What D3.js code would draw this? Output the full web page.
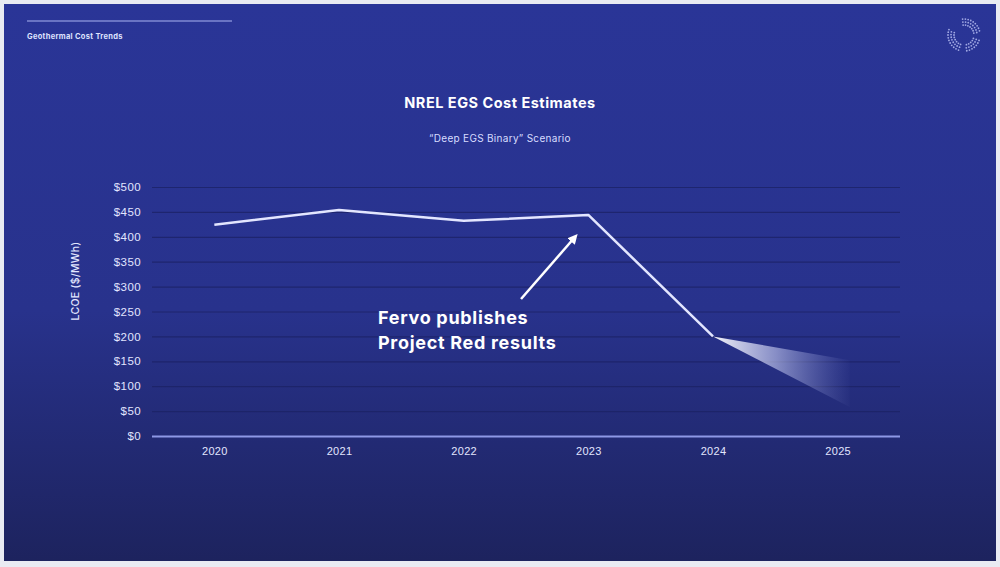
<!DOCTYPE html>
<html>
<head>
<meta charset="utf-8">
<script src="https://cdn.jsdelivr.net/npm/d3@7"></script>
<style>
  html, body { margin: 0; padding: 0; background: #e9ebf2; }
  svg { display: block; font-family: Inter, "Open Sans", sans-serif; }
</style>
</head>
<body>
<svg id="chart" width="1000" height="567"></svg>
<script>
// chart data
const years = ['2020', '2021', '2022', '2023', '2024', '2025'];
const lcoe = [424, 454, 432, 444, 200];          // 2020 - 2024
const projYears = ['2024', '2025'];
const projHigh = [200, 152];
const projLow = [200, 58];
const yTicks = [0, 50, 100, 150, 200, 250, 300, 350, 400, 450, 500];

const width = 1000, height = 567;
const svg = d3.select('#chart');
const defs = svg.append('defs');

// slide background
const bg = defs.append('linearGradient').attr('id', 'bg')
  .attr('x1', 0).attr('y1', 0).attr('x2', 0).attr('y2', 1);
bg.append('stop').attr('offset', '0%').attr('stop-color', '#2a3597');
bg.append('stop').attr('offset', '55%').attr('stop-color', '#28328c');
bg.append('stop').attr('offset', '100%').attr('stop-color', '#1d235e');
svg.append('rect')
  .attr('x', 4).attr('y', 4).attr('width', 992).attr('height', 557)
  .attr('fill', 'url(#bg)');

// header
svg.append('line')
  .attr('x1', 27).attr('x2', 232).attr('y1', 21).attr('y2', 21)
  .attr('stroke', '#aab4f0').attr('stroke-width', 1);
svg.append('text')
  .attr('x', 27).attr('y', 39)
  .attr('fill', '#dfe3ff').attr('font-size', 7.5).attr('font-weight', 700)
  .attr('letter-spacing', 0.3)
  .text('Geothermal Cost Trends');

// logo: dotted rings
const logo = svg.append('g').attr('transform', 'translate(964,35)');
const arcs = [
  { a0: 200, a1: 290 },
  { a0: 110, a1: 175 },
  { a0: -5, a1: 80 }
];
[10, 13, 16].forEach((r, ri) => {
  arcs.forEach(arc => {
    for (let a = arc.a0; a <= arc.a1; a += 14 - ri * 2) {
      const rad = (a - 90) * Math.PI / 180;
      logo.append('circle')
        .attr('cx', r * Math.cos(rad)).attr('cy', r * Math.sin(rad))
        .attr('r', 0.9).attr('fill', '#c9d0ff').attr('opacity', 0.75);
    }
  });
});

// titles
svg.append('text')
  .attr('x', 500).attr('y', 108).attr('text-anchor', 'middle')
  .attr('fill', '#ffffff').attr('font-size', 14.5).attr('font-weight', 700)
  .attr('letter-spacing', 0.5)
  .text('NREL EGS Cost Estimates');
svg.append('text')
  .attr('x', 500).attr('y', 142).attr('text-anchor', 'middle')
  .attr('fill', '#d8ddff').attr('font-size', 10).attr('letter-spacing', 0.3)
  .text('\u201cDeep EGS Binary\u201d Scenario');

// scales
const x = d3.scalePoint().domain(years).range([152, 900]).padding(0.5);
const y = d3.scaleLinear().domain([0, 500]).range([436, 187]);

// gridlines
const yAxis = d3.axisLeft(y).tickValues(yTicks).tickSize(-(900 - 152))
  .tickFormat(d => '$' + d);
const gy = svg.append('g').attr('transform', 'translate(152,0)').call(yAxis);
gy.select('.domain').remove();
gy.selectAll('.tick line')
  .attr('stroke', '#1b2164').attr('stroke-opacity', 0.75).attr('stroke-width', 1.2);
gy.selectAll('.tick text')
  .attr('x', -11).attr('fill', '#e2e6ff').attr('font-size', 11.5)
  .attr('font-weight', 500).attr('letter-spacing', 0.4);
gy.selectAll('.tick').filter(d => d === 0).select('line')
  .attr('stroke', '#8d98e6').attr('stroke-opacity', 1).attr('stroke-width', 2);

// x axis labels
const xAxis = d3.axisBottom(x).tickSize(0).tickPadding(11);
const gx = svg.append('g').attr('transform', 'translate(0,436)').call(xAxis);
gx.select('.domain').remove();
gx.selectAll('.tick text')
  .attr('fill', '#e2e6ff').attr('font-size', 11).attr('font-weight', 500)
  .attr('letter-spacing', 0.3);

// y axis title
svg.append('text')
  .attr('transform', 'translate(79,281) rotate(-90)')
  .attr('text-anchor', 'middle')
  .attr('fill', '#e2e6ff').attr('font-size', 10.5).attr('font-weight', 500)
  .attr('letter-spacing', 0.3)
  .text('LCOE ($/MWh)');

// projection fan
const fanGrad = defs.append('linearGradient').attr('id', 'fan')
  .attr('gradientUnits', 'userSpaceOnUse')
  .attr('x1', x('2024')).attr('y1', 0).attr('x2', x('2025') + 15).attr('y2', 0);
fanGrad.append('stop').attr('offset', '0%').attr('stop-color', '#ffffff').attr('stop-opacity', 0.95);
fanGrad.append('stop').attr('offset', '45%').attr('stop-color', '#c8cdf2').attr('stop-opacity', 0.6);
fanGrad.append('stop').attr('offset', '100%').attr('stop-color', '#8a93d8').attr('stop-opacity', 0);
const fanData = projYears.map((yr, i) => ({ yr, hi: projHigh[i], lo: projLow[i] }));
const fanArea = d3.area()
  .x(d => x(d.yr) + (d.yr === '2025' ? 12 : 0))
  .y0(d => y(d.lo)).y1(d => y(d.hi));
svg.append('path').datum(fanData)
  .attr('d', fanArea).attr('fill', 'url(#fan)');

// main line
const lineData = lcoe.map((v, i) => ({ yr: years[i], v }));
svg.append('path').datum(lineData)
  .attr('d', d3.line().x(d => x(d.yr)).y(d => y(d.v)))
  .attr('fill', 'none').attr('stroke', '#e3e6ff')
  .attr('stroke-width', 2.5).attr('stroke-linejoin', 'round');

// annotation arrow
defs.append('marker').attr('id', 'arrow')
  .attr('viewBox', '0 0 10 10').attr('refX', 5).attr('refY', 5)
  .attr('markerWidth', 4).attr('markerHeight', 4).attr('orient', 'auto')
  .append('path').attr('d', 'M0,0 L10,5 L0,10 z').attr('fill', '#ffffff');
const ax0 = x('2022') + (x('2023') - x('2022')) * 0.46;
svg.append('line')
  .attr('x1', ax0).attr('y1', y(275))
  .attr('x2', x('2023') - 14).attr('y2', y(398))
  .attr('stroke', '#ffffff').attr('stroke-width', 2.5)
  .attr('marker-end', 'url(#arrow)');

const note = svg.append('text')
  .attr('x', 378).attr('fill', '#ffffff')
  .attr('font-size', 18).attr('font-weight', 700).attr('letter-spacing', 0.7);
note.append('tspan').attr('x', 378).attr('y', 324).text('Fervo publishes');
note.append('tspan').attr('x', 378).attr('y', 349).text('Project Red results');
</script>
</body>
</html>
